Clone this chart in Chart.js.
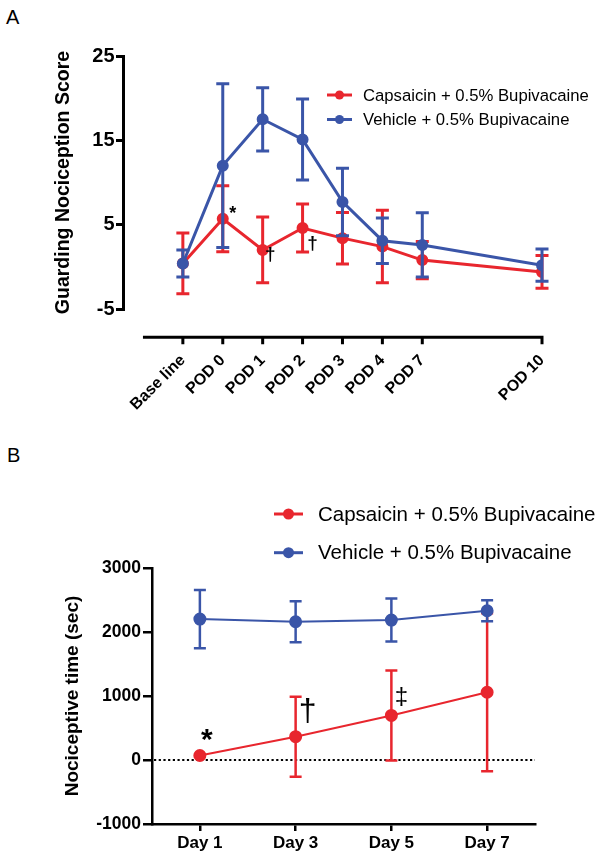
<!DOCTYPE html>
<html><head><meta charset="utf-8">
<script src="https://cdn.jsdelivr.net/npm/chart.js@4.4.0/dist/chart.umd.min.js"></script>
<style>
html,body{margin:0;padding:0;background:#fff}
body{width:604px;height:861px;overflow:hidden;position:relative;font-family:'Liberation Sans',Arial,sans-serif}
canvas{position:absolute;left:0}
.panel{position:absolute;font-size:20px;color:#000;line-height:1}
</style></head><body>
<div class="panel" style="left:6px;top:7px">A</div>
<div class="panel" style="left:7px;top:445px">B</div>
<canvas id="cA" width="604" height="430" style="top:0"></canvas>
<canvas id="cB" width="604" height="431" style="top:430px"></canvas>
<script>
// ---------- data ----------
const seriesNames = ['Capsaicin + 0.5% Bupivacaine', 'Vehicle + 0.5% Bupivacaine'];
// Panel A
const podLabels = ['Base line', 'POD 0', 'POD 1', 'POD 2', 'POD 3', 'POD 4', 'POD 7', 'POD 10'];
const podPositions = [0, 1, 2, 3, 4, 5, 6, 9];
const capsA = [0.4, 5.7, 2.0, 4.6, 3.4, 2.4, 0.8, -0.6];
const capsAErr = [3.6, 3.9, 3.9, 2.85, 3.05, 4.3, 2.2, 1.95];
const vehA = [0.4, 12.0, 17.5, 15.1, 7.7, 3.1, 2.6, 0.2];
const vehAErr = [1.6, 9.7, 3.75, 4.8, 4.0, 2.7, 3.8, 1.9];
const yTicksA = [-5, 5, 15, 25];
// Panel B
const dayLabels = ['Day 1', 'Day 3', 'Day 5', 'Day 7'];
const capsB = [70, 364, 696, 1059];
const capsBErr = [15, 624, 704, 1235];
const vehB = [2202, 2160, 2187, 2332];
const vehBErr = [455, 320, 335, 165];
const yTicksB = [-1000, 0, 1000, 2000, 3000];
// significance marks: [dataset, point index, symbol]
const marksA = [[0, 1, '*'], [0, 2, '\u2020'], [0, 3, '\u2020']];
const marksB = [[0, 0, '*'], [0, 1, '\u2020'], [0, 2, '\u2021']];

// ---------- styling ----------
const RED = '#E8262E', BLUE = '#3A55A8';
const FAM = "'Liberation Sans', Arial, Helvetica, sans-serif";
Chart.defaults.font.family = FAM;
Chart.defaults.color = '#000';

const marksStyleA = [{dx: 10, dy: -9, font: 'bold 18px ' + FAM}, {dx: 7.5, dy: 5, font: 'bold 19px ' + FAM}, {dx: 10, dy: 15, font: 'bold 19px ' + FAM}];
const marksStyleB = [{dx: 7, dy: -21, font: 'bold 30px ' + FAM}, {dx: 12, dy: -26, font: '32px ' + FAM}, {dx: 10, dy: -19, font: '24px ' + FAM}];

const errorBars = {
  id: 'errorBars',
  beforeDatasetDraw(chart, args) {
    const ds = chart.data.datasets[args.index];
    if (!ds.errors) return;
    const ys = chart.scales.y, ctx = chart.ctx;
    ctx.save();
    ctx.strokeStyle = ds.borderColor;
    ctx.lineWidth = ds.errWidth;
    ctx.lineCap = 'butt';
    args.meta.data.forEach((pt, i) => {
      const raw = ds.data[i];
      const v = (typeof raw === 'object') ? raw.y : raw;
      const e = ds.errors[i];
      const yt = ys.getPixelForValue(v + e), yb = ys.getPixelForValue(v - e);
      const c = ds.capHalf;
      ctx.beginPath();
      ctx.moveTo(pt.x, yt); ctx.lineTo(pt.x, yb);
      ctx.moveTo(pt.x - c, yt); ctx.lineTo(pt.x + c, yt);
      ctx.moveTo(pt.x - c, yb); ctx.lineTo(pt.x + c, yb);
      ctx.stroke();
    });
    ctx.restore();
  }
};

const marksPlugin = {
  id: 'marks',
  afterDatasetsDraw(chart, args, opts) {
    const ctx = chart.ctx;
    ctx.save();
    ctx.fillStyle = '#000';
    ctx.textAlign = 'center';
    ctx.textBaseline = 'alphabetic';
    opts.items.forEach((m, k) => {
      const st = opts.styles[k];
      const pt = chart.getDatasetMeta(m[0]).data[m[1]];
      ctx.font = st.font;
      const mt = ctx.measureText(m[2]);
      const cy = pt.y + st.dy;
      ctx.fillText(m[2], pt.x + st.dx, cy + (mt.actualBoundingBoxAscent - mt.actualBoundingBoxDescent) / 2);
    });
    ctx.restore();
  }
};

const legendPlugin = {
  id: 'customLegend',
  afterDraw(chart, args, o) {
    const ctx = chart.ctx;
    ctx.save();
    seriesNames.forEach((name, i) => {
      const ds = chart.data.datasets[i];
      const y = o.y[i];
      ctx.strokeStyle = ds.borderColor;
      ctx.lineWidth = o.lw;
      ctx.beginPath(); ctx.moveTo(o.x1, y); ctx.lineTo(o.x2, y); ctx.stroke();
      ctx.fillStyle = ds.borderColor;
      ctx.beginPath(); ctx.arc((o.x1 + o.x2) / 2, y, o.r, 0, Math.PI * 2); ctx.fill();
      ctx.fillStyle = '#000';
      ctx.font = o.font;
      ctx.textBaseline = 'middle';
      ctx.textAlign = 'left';
      ctx.fillText(name, o.tx, y + 1);
    });
    ctx.restore();
  }
};

// detached x axis for panel A
const detachedXAxis = {
  id: 'detachedX',
  afterDraw(chart, args, o) {
    const xs = chart.scales.x, ys = chart.scales.y, ctx = chart.ctx;
    const y = ys.getPixelForValue(o.atValue);
    ctx.save();
    ctx.strokeStyle = '#000';
    ctx.lineWidth = 3;
    ctx.lineCap = 'butt';
    ctx.beginPath();
    ctx.moveTo(xs.getPixelForValue(o.from), y);
    ctx.lineTo(xs.getPixelForValue(o.to) + 1.5, y);
    xs.ticks.forEach(t => {
      const x = xs.getPixelForValue(t.value);
      ctx.moveTo(x, y); ctx.lineTo(x, y + o.tick);
    });
    ctx.stroke();
    ctx.restore();
  }
};

const zeroLine = {
  id: 'zeroLine',
  beforeDatasetsDraw(chart) {
    const ys = chart.scales.y, ca = chart.chartArea, ctx = chart.ctx;
    const y = ys.getPixelForValue(0);
    ctx.save();
    ctx.strokeStyle = '#000';
    ctx.lineWidth = 2.2;
    ctx.setLineDash([2.2, 2.5]);
    ctx.beginPath(); ctx.moveTo(ca.left + 2, y); ctx.lineTo(ca.right, y); ctx.stroke();
    ctx.restore();
  }
};

// ---------- Panel A ----------
new Chart(document.getElementById('cA'), {
  type: 'line',
  data: {
    datasets: [
      {label: seriesNames[0], data: podPositions.map((x, i) => ({x, y: capsA[i]})), errors: capsAErr,
       borderColor: RED, backgroundColor: RED, borderWidth: 3, pointRadius: 4.5, pointHoverRadius: 4.5,
       errWidth: 3, capHalf: 6.5, order: 2, tension: 0},
      {label: seriesNames[1], data: podPositions.map((x, i) => ({x, y: vehA[i]})), errors: vehAErr,
       borderColor: BLUE, backgroundColor: BLUE, borderWidth: 3, pointRadius: 4.5, pointHoverRadius: 4.5,
       errWidth: 3, capHalf: 6.5, order: 1, tension: 0}
    ]
  },
  options: {
    responsive: false, animation: false, events: [],
    layout: {padding: {top: 56, right: 62, bottom: 0, left: 0}},
    plugins: {
      legend: {display: false}, tooltip: {enabled: false},
      customLegend: {x1: 327, x2: 352, tx: 363, y: [95, 119.5], r: 4.5, lw: 3, font: '16.7px ' + FAM},
      detachedX: {atValue: -8.35, from: -1, to: 9, tick: 7},
      marks: {items: marksA, styles: marksStyleA}
    },
    scales: {
      x: {
        type: 'linear', min: -1.5, max: 9,
        afterFit: s => { s.height = 121; },
        afterBuildTicks: s => { s.ticks = podPositions.map(v => ({value: v})); },
        grid: {display: false}, border: {display: false},
        ticks: {autoSkip: false, minRotation: 45, maxRotation: 45, padding: 34,
                font: {size: 16, weight: 'bold'}, color: '#000',
                callback: (v, i) => podLabels[i]}
      },
      y: {
        min: -5, max: 25,
        afterFit: s => { s.width = 123; },
        afterBuildTicks: s => { s.ticks = yTicksA.map(v => ({value: v})); },
        grid: {display: true, drawOnChartArea: false, drawTicks: true, tickLength: 7, color: '#000', lineWidth: 3},
        border: {display: true, color: '#000', width: 3},
        ticks: {padding: 1.5, font: {size: 20, weight: 'bold'}, color: '#000', callback: v => String(v)},
        title: {display: true, text: 'Guarding Nociception Score', font: {size: 19.5, weight: 'bold'}, color: '#000', padding: {top: 52, bottom: 0}}
      }
    }
  },
  plugins: [errorBars, legendPlugin, detachedXAxis, marksPlugin]
});

// ---------- Panel B ----------
new Chart(document.getElementById('cB'), {
  type: 'line',
  data: {
    labels: dayLabels,
    datasets: [
      {label: seriesNames[0], data: capsB, errors: capsBErr,
       borderColor: RED, backgroundColor: RED, borderWidth: 2, pointRadius: 5.5, pointHoverRadius: 5.5,
       errWidth: 2.5, capHalf: 6, order: 2, tension: 0},
      {label: seriesNames[1], data: vehB, errors: vehBErr,
       borderColor: BLUE, backgroundColor: BLUE, borderWidth: 2, pointRadius: 5.5, pointHoverRadius: 5.5,
       errWidth: 2.5, capHalf: 6, order: 1, tension: 0}
    ]
  },
  options: {
    responsive: false, animation: false, events: [],
    layout: {padding: {top: 138, right: 69, bottom: 0, left: 0}},
    plugins: {
      legend: {display: false}, tooltip: {enabled: false},
      customLegend: {x1: 274, x2: 303, tx: 318, y: [84, 122.7], r: 5.5, lw: 3, font: '20.5px ' + FAM},
      marks: {items: marksB, styles: marksStyleB}
    },
    scales: {
      x: {
        type: 'category', offset: true,
        afterFit: s => { s.height = 37; },
        grid: {display: true, offset: false, drawOnChartArea: false, drawTicks: true, tickLength: 7, color: '#000', lineWidth: 2.5},
        border: {display: true, color: '#000', width: 2.5},
        ticks: {padding: 2, font: {size: 17, weight: 'bold'}, color: '#000'}
      },
      y: {
        min: -1000, max: 3000,
        afterFit: s => { s.width = 152; },
        afterBuildTicks: s => { s.ticks = yTicksB.map(v => ({value: v})); },
        grid: {display: true, drawOnChartArea: false, drawTicks: true, tickLength: 9, color: '#000', lineWidth: 2.5},
        border: {display: true, color: '#000', width: 2.5},
        ticks: {padding: 2, font: {size: 17.5, weight: 'bold'}, color: '#000', callback: v => String(v)},
        title: {display: true, text: 'Nociceptive time (sec)', font: {size: 19, weight: 'bold'}, color: '#000', padding: {top: 61, bottom: 0}}
      }
    }
  },
  plugins: [errorBars, zeroLine, legendPlugin, marksPlugin]
});
</script>
</body></html>
